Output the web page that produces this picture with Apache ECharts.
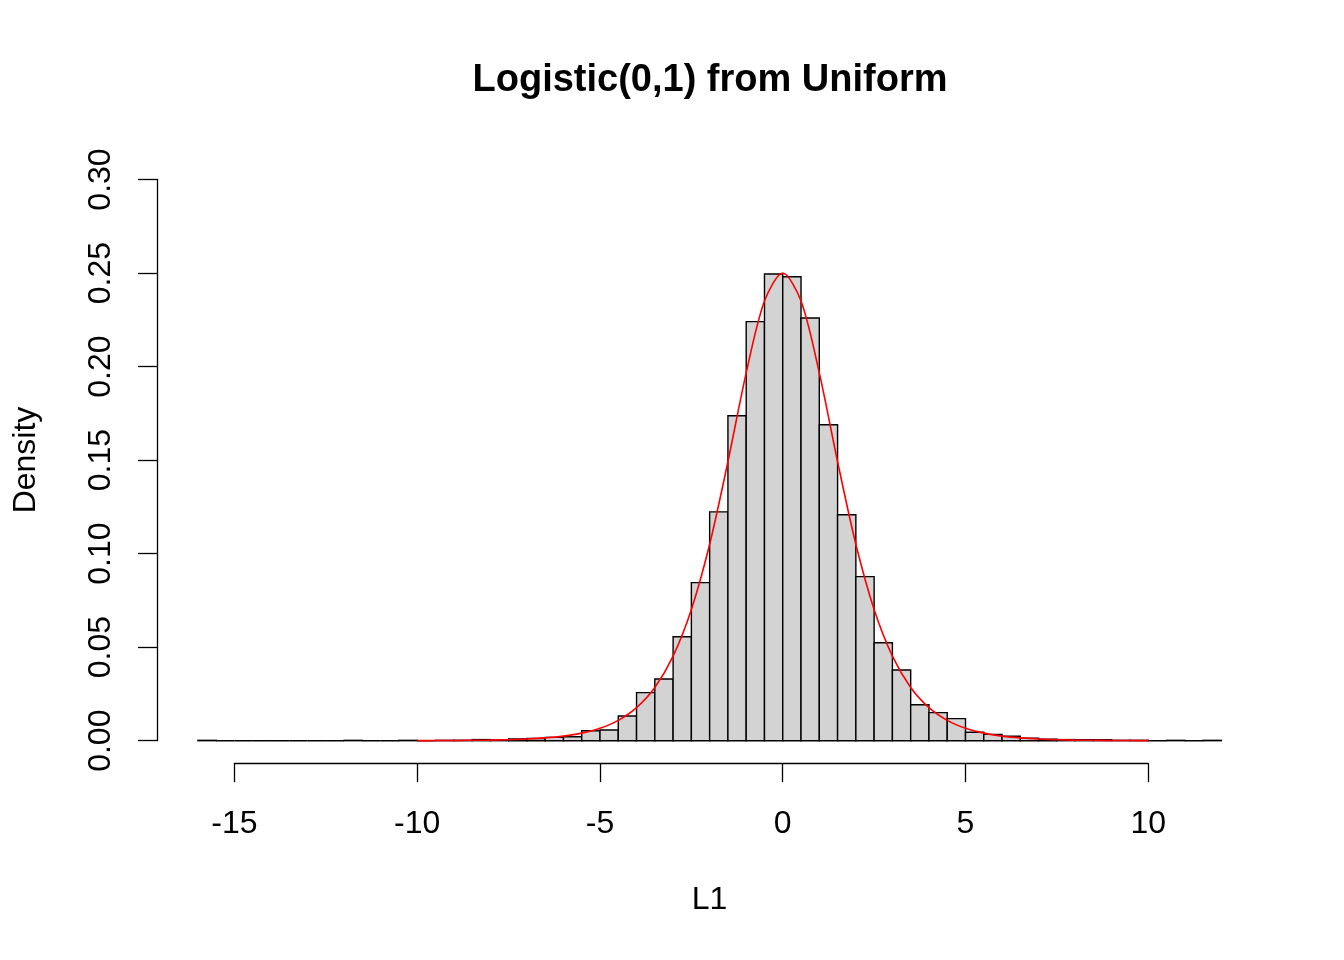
<!DOCTYPE html>
<html>
<head>
<meta charset="utf-8">
<script src="https://cdn.jsdelivr.net/npm/echarts@6/dist/echarts.min.js"></script>
<style>html,body{margin:0;padding:0;background:#fff;}#c{width:1344px;height:960px;}</style>
</head>
<body>
<div id="c"></div>
<script>
// Histogram: bins of width 0.5 starting at -16
const binStart = -16;
const binWidth = 0.5;
const densities = [
  0.0002, 0, 0, 0, 0, 0, 0, 0, 0.0002, 0, 0, 0.0002, 0, 0.0002, 0.0002,
  0.0006, 0.0004, 0.0010, 0.0012, 0.0018, 0.0021, 0.0053, 0.0057, 0.0132,
  0.0257, 0.0330, 0.0556, 0.0845, 0.1223, 0.1737, 0.2240, 0.2495,
  0.2480, 0.2260, 0.1689, 0.1208, 0.0877, 0.0524, 0.0378, 0.0192, 0.0150,
  0.0118, 0.0045, 0.0034, 0.0024, 0.0013, 0.0008, 0.0006, 0.0005, 0.0005,
  0.0002, 0.0002, 0, 0.0002, 0, 0.0002
];
// Red density curve, read at x = -10 .. 10
const curveX = [-10,-9.5,-9,-8.5,-8,-7.5,-7,-6.5,-6,-5.5,-5,-4.5,-4,-3.5,-3,-2.5,-2,-1.5,-1,-0.5,0,
  0.5,1,1.5,2,2.5,3,3.5,4,4.5,5,5.5,6,6.5,7,7.5,8,8.5,9,9.5,10];
const curveY = [0.0000454,0.0000748,0.000123,0.000203,0.000335,0.000553,0.000910,0.001499,0.002467,0.004054,
  0.006648,0.010866,0.017663,0.028453,0.045177,0.070104,0.104994,0.149146,0.196612,0.235004,0.25,
  0.235004,0.196612,0.149146,0.104994,0.070104,0.045177,0.028453,0.017663,0.010866,0.006648,
  0.004054,0.002467,0.001499,0.000910,0.000553,0.000335,0.000203,0.000123,0.0000748,0.0000454];
const xTicks = [-15, -10, -5, 0, 5, 10];
const yTicks = [0, 0.05, 0.10, 0.15, 0.20, 0.25, 0.30];

const FONT = "'Liberation Sans', Arial, sans-serif";
const barData = densities.map((d, i) => [binStart + i * binWidth, binStart + (i + 1) * binWidth, d]);
const curveData = curveX.map((x, i) => [x, curveY[i]]);

const chart = echarts.init(document.getElementById('c'), null, {renderer: 'canvas'});
chart.setOption({
  animation: false,
  backgroundColor: '#ffffff',
  grid: [
    {left: 157, top: 157.05, width: 1105.3, height: 606.1},
    {left: 234.45, top: 179.5, width: 913.75, height: 561.2}
  ],
  xAxis: [
    {gridIndex: 0, type: 'value', min: -17.12, max: 13.12, show: false},
    {gridIndex: 1, type: 'value', min: xTicks[0], max: xTicks[xTicks.length - 1], interval: 5,
     position: 'bottom', offset: 22.4,
     axisLine: {show: true, onZero: false, lineStyle: {color: '#000', width: 1.3}},
     axisTick: {show: true, length: 19, inside: false, lineStyle: {color: '#000', width: 1.3}},
     axisLabel: {color: '#000', fontSize: 32, fontFamily: FONT, margin: 45},
     splitLine: {show: false}}
  ],
  yAxis: [
    {gridIndex: 0, type: 'value', min: -0.012, max: 0.312, show: false},
    {gridIndex: 1, type: 'value', min: yTicks[0], max: yTicks[yTicks.length - 1], interval: 0.05,
     position: 'left', offset: 77.45,
     axisLine: {show: true, onZero: false, lineStyle: {color: '#000', width: 1.3}},
     axisTick: {show: true, length: 19, inside: false, lineStyle: {color: '#000', width: 1.3}},
     axisLabel: {color: '#000', fontSize: 32, fontFamily: FONT, rotate: 90, margin: 40,
                 formatter: v => v.toFixed(2)},
     splitLine: {show: false}}
  ],
  series: [
    {
      type: 'custom', xAxisIndex: 0, yAxisIndex: 0,
      data: barData,
      renderItem: function (params, api) {
        const p0 = api.coord([api.value(0), api.value(2)]);
        const p1 = api.coord([api.value(1), 0]);
        return {
          type: 'rect',
          shape: {x: p0[0], y: p0[1], width: p1[0] - p0[0], height: p1[1] - p0[1]},
          style: {fill: '#D3D3D3', stroke: '#000', lineWidth: 1.4}
        };
      }
    },
    {
      type: 'line', xAxisIndex: 0, yAxisIndex: 0,
      data: curveData, smooth: 0.3, symbol: 'none',
      lineStyle: {color: '#FF0000', width: 1.6}
    }
  ],
  graphic: [
    {type: 'text', x: 710, y: 81,
     style: {text: 'Logistic(0,1) from Uniform', font: 'bold 38px ' + FONT, fill: '#000',
             textAlign: 'center', textVerticalAlign: 'middle'}},
    {type: 'text', x: 709.6, y: 900,
     style: {text: 'L1', font: '32px ' + FONT, fill: '#000', textAlign: 'center', textVerticalAlign: 'middle'}},
    {type: 'text', x: 26, y: 460, rotation: Math.PI / 2,
     style: {text: 'Density', font: '32px ' + FONT, fill: '#000', textAlign: 'center', textVerticalAlign: 'middle'}}
  ]
});
</script>
</body>
</html>
